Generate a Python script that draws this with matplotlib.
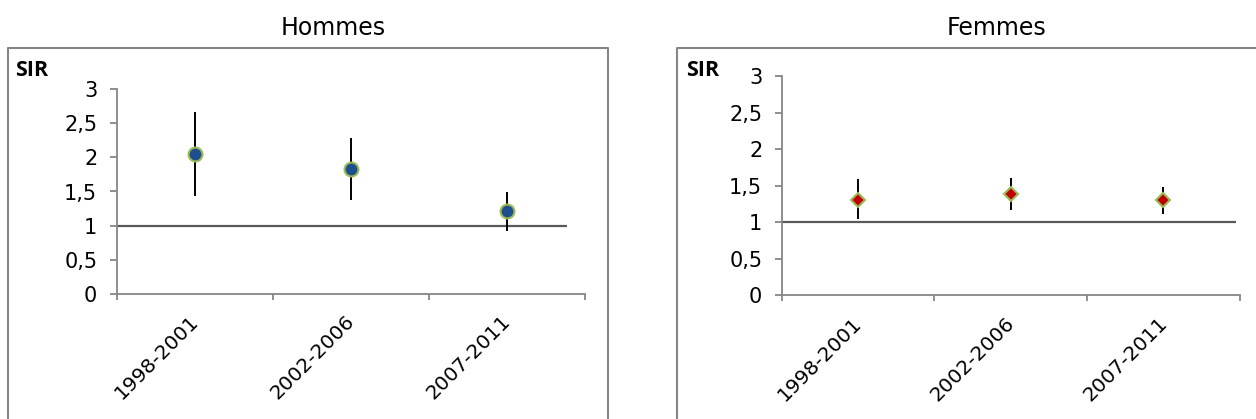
import matplotlib.pyplot as plt
from matplotlib.lines import Line2D
from matplotlib.ticker import FixedLocator, NullFormatter
from matplotlib.transforms import ScaledTranslation


periods = ["1998-2001", "2002-2006", "2007-2011"]

hommes_sir = [2.05, 1.83, 1.21]
hommes_low = [1.44, 1.37, 0.92]
hommes_high = [2.67, 2.28, 1.49]

femmes_sir = [1.31, 1.39, 1.30]
femmes_low = [1.04, 1.17, 1.12]
femmes_high = [1.59, 1.61, 1.48]

y_ticks = [0, 0.5, 1, 1.5, 2, 2.5, 3]
y_labels = ["0", "0,5", "1", "1,5", "2", "2,5", "3"]

# how far the SIR = 1 reference line runs along the category axis
ref_end_hommes = 2.886
ref_end_femmes = 2.974

W, H = 1256, 419
GRID = "#868686"


def px_rect(x0, x1, y_top, y_bottom):
    return [x0 / W, (H - y_bottom) / H, (x1 - x0) / W, (y_bottom - y_top) / H]


def draw_panel(fig, ax, sir, low, high, ref_end, marker, face, msize):
    x = [i + 0.5 for i in range(len(periods))]

    ax.hlines(1, 0, ref_end, color="#595959", linewidth=1.6, zorder=2)

    yerr = [
        [s - lo for s, lo in zip(sir, low)],
        [hi - s for s, hi in zip(sir, high)],
    ]
    ax.errorbar(
        x,
        sir,
        yerr=yerr,
        fmt="none",
        ecolor="black",
        elinewidth=1.4,
        capsize=0,
        zorder=3,
    )
    ax.plot(
        x,
        sir,
        linestyle="none",
        marker=marker,
        markersize=msize,
        markerfacecolor=face,
        markeredgecolor="#9BBB59",
        markeredgewidth=1.5,
        zorder=4,
    )

    ax.set_xlim(0, 3)
    ax.set_ylim(0, 3)

    for side in ["top", "right"]:
        ax.spines[side].set_visible(False)
    for side in ["left", "bottom"]:
        ax.spines[side].set_color(GRID)
        ax.spines[side].set_linewidth(1.3)

    ax.set_yticks(y_ticks)
    ax.set_yticklabels(y_labels)
    ax.tick_params(
        axis="y",
        direction="out",
        length=5,
        width=1.3,
        color=GRID,
        pad=9,
        labelsize=15,
    )

    ax.xaxis.set_major_locator(FixedLocator([0, 1, 2, 3]))
    ax.xaxis.set_major_formatter(NullFormatter())
    ax.xaxis.set_minor_locator(FixedLocator(x))
    ax.set_xticklabels(periods, minor=True)
    ax.tick_params(
        axis="x",
        which="major",
        direction="out",
        length=4.5,
        width=1.3,
        color=GRID,
    )
    ax.tick_params(axis="x", which="minor", length=0, pad=13, labelsize=14.5)
    shift = ScaledTranslation(-6 / 100, 0, fig.dpi_scale_trans)
    for label in ax.get_xticklabels(minor=True):
        label.set_rotation(45)
        label.set_ha("right")
        label.set_va("top")
        label.set_rotation_mode("anchor")
        label.set_transform(label.get_transform() + shift)


def main():

    fig = plt.figure(figsize=(W / 100, H / 100), dpi=100)

    # outer chart frames
    frame = dict(color=GRID, linewidth=1.5, transform=fig.transFigure)
    fig.add_artist(Line2D([8 / W, 8 / W, 607.5 / W, 607.5 / W],
                          [0, (H - 47.7) / H, (H - 47.7) / H, 0], **frame))
    fig.add_artist(Line2D([677 / W, 677 / W, 1.0],
                          [0, (H - 47.7) / H, (H - 47.7) / H], **frame))

    ax_h = fig.add_axes(px_rect(116.7, 585.2, 89.3, 293.7))
    draw_panel(fig, ax_h, hommes_sir, hommes_low, hommes_high,
               ref_end_hommes, "o", "#1F4E8C", 10)

    ax_f = fig.add_axes(px_rect(781.7, 1239.6, 76.3, 295.3))
    draw_panel(fig, ax_f, femmes_sir, femmes_low, femmes_high,
               ref_end_femmes, "D", "#C00000", 7.5)

    fig.text(333 / W, (H - 28) / H, "Hommes", fontsize=17,
             ha="center", va="center")
    fig.text(996 / W, (H - 28) / H, "Femmes", fontsize=17,
             ha="center", va="center")

    sir_font = dict(family=["Open Sans", "DejaVu Sans"], fontweight="bold",
                    fontsize=15.5, ha="left", va="center")
    fig.text(15 / W, (H - 70.5) / H, "SIR", **sir_font)
    fig.text(686 / W, (H - 70.5) / H, "SIR", **sir_font)

    fig.savefig("out.png", dpi=100)


if __name__ == "__main__":
    main()
